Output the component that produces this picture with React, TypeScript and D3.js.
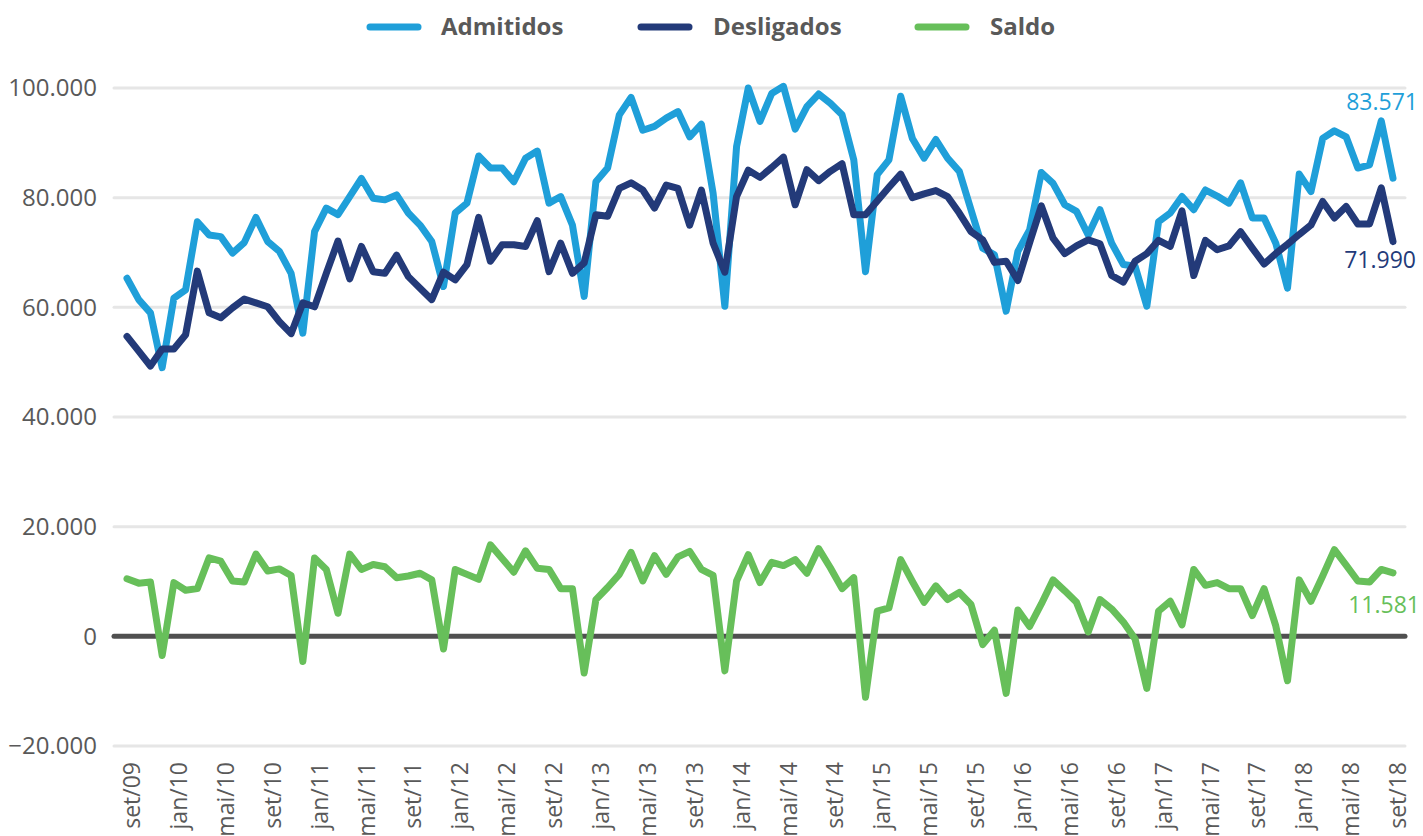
import { useMemo } from "react";
import * as d3 from "d3";

const MONTHS = ["jan", "fev", "mar", "abr", "mai", "jun", "jul", "ago", "set", "out", "nov", "dez"];

// set/09 .. set/18, one entry per month
const categories = d3
    .timeMonth.range(new Date(2009, 8, 1), new Date(2018, 9, 1))
    .map(d => `${MONTHS[d.getMonth()]}/${String(d.getFullYear()).slice(2)}`);

const admitidos = [
    65300, 61400, 59000, 49000, 61700, 63200, 75600, 73200, 72900, 69900, 71800, 76400,
    72000, 70200, 66200, 55300, 73800, 78100, 76900, 80200, 83500, 79900, 79600, 80500,
    77200, 75000, 72000, 63800, 77200, 79000, 87600, 85400, 85400, 82900, 87200, 88500,
    79000, 80200, 75000, 62000, 82900, 85400, 95100, 98300, 92300, 93000, 94500, 95700,
    91100, 93400, 80800, 60200, 89300, 100000, 93900, 99000, 100300, 92500, 96600, 98900,
    97200, 95100, 86900, 66500, 84200, 86900, 98500, 90800, 87200, 90600, 87200, 84800,
    77800, 70800, 69600, 59300, 70200, 74100, 84600, 82600, 78700, 77500, 73200, 77800,
    71700, 67800, 67500, 60200, 75600, 77200, 80200, 77800, 81400, 80300, 79000, 82700,
    76300, 76300, 71700, 63500, 84300, 81100, 90800, 92200, 91100, 85400, 86000, 94000,
    83571
];

const desligados = [
    54700, 52000, 49300, 52400, 52400, 55000, 66600, 59000, 58100, 59900, 61500, 60800,
    60100, 57400, 55200, 60800, 60100, 66200, 72100, 65200, 71100, 66500, 66200, 69500,
    65600, 63500, 61400, 66400, 65000, 67800, 76400, 68400, 71400, 71400, 71100, 75800,
    66500, 71700, 66200, 68100, 76900, 76600, 81700, 82700, 81400, 78100, 82300, 81700,
    75000, 81400, 71700, 66400, 80200, 85000, 83700, 85500, 87400, 78700, 85100, 83100,
    84800, 86200, 76900, 76900, 79400, 81900, 84300, 80000, 80700, 81300, 80200, 77200,
    73800, 72300, 68200, 68400, 64900, 71800, 78500, 72600, 69800, 71200, 72300, 71600,
    65800, 64600, 68400, 69800, 72200, 71100, 77600, 65800, 72200, 70500, 71200, 73800,
    70800, 67900, 69800, 71500, 73300, 75000, 79300, 76300, 78400, 75200, 75200, 81800,
    71990
];

const saldo = [
    10500, 9700, 9900, -3500, 9800, 8400, 8700, 14300, 13700, 10100, 9900, 15000,
    11900, 12300, 11100, -4600, 14300, 12200, 4200, 15000, 12200, 13100, 12700, 10700,
    11000, 11500, 10300, -2300, 12200, 11300, 10400, 16700, 14200, 11700, 15600, 12400,
    12200, 8700, 8700, -6700, 6700, 8900, 11300, 15300, 10100, 14700, 11300, 14500,
    15500, 12200, 11100, -6300, 10100, 14900, 9800, 13500, 12900, 14000, 11500, 16000,
    12500, 8700, 10700, -11100, 4600, 5200, 14000, 10000, 6200, 9200, 6700, 8000,
    5800, -1500, 1100, -10400, 4800, 1800, 5900, 10300, 8300, 6200, 800, 6700,
    5000, 2600, -500, -9500, 4600, 6400, 2100, 12200, 9300, 9800, 8700, 8700,
    3800, 8700, 1900, -8100, 10300, 6400, 11000, 15800, 13000, 10100, 9900, 12200,
    11581
];

const yTicks = [-20000, 0, 20000, 40000, 60000, 80000, 100000];

const seriesNames = ["Admitidos", "Desligados", "Saldo"];
const seriesColors = ["#1f9fd9", "#233a79", "#67bf5a"];

const WIDTH = 1423;
const HEIGHT = 836;
const FONT = "'Open Sans', sans-serif";
const TEXT = "#595959";

const locale = d3.formatLocale({ decimal: ",", thousands: ".", grouping: [3], currency: ["R$", ""] });
const fmt = locale.format(",d");

const App = () => {
    const series = [admitidos, desligados, saldo];

    const x = useMemo(() => d3.scalePoint<string>().domain(categories).range([127, 1393]), []);
    const y = useMemo(() => d3.scaleLinear().domain([-20000, 100000]).range([746, 88]), []);

    const lineGen = d3
        .line<number>()
        .x((_, i) => x(categories[i]) as number)
        .y(d => y(d));

    const tickCats = categories.filter((_, i) => i % 4 === 0);
    const last = categories.length - 1;

    // legend positions
    const legend = [
        { sx: 370, tx: 441 },
        { sx: 641, tx: 713 },
        { sx: 918, tx: 990 }
    ];

    // end-of-line value labels
    const endLabels = [
        { dx: 1418, dy: -68 },
        { dx: 1416, dy: 26 },
        { dx: 1420, dy: 40 }
    ];

    return (
        <svg
            width={WIDTH}
            height={HEIGHT}
            style={{ position: "absolute", left: 0, top: 0, background: "#fff" }}
            fontFamily={FONT}
        >
            {/* legend */}
            {seriesNames.map((name, i) => (
                <g key={name}>
                    <line
                        x1={legend[i].sx}
                        x2={legend[i].sx + 48}
                        y1={27}
                        y2={27}
                        stroke={seriesColors[i]}
                        strokeWidth={7}
                        strokeLinecap="round"
                    />
                    <text x={legend[i].tx} y={27} dy="0.35em" fontSize={24} fontWeight={700} fill={TEXT}>
                        {name}
                    </text>
                </g>
            ))}

            {/* grid + y labels */}
            {yTicks.map(t => (
                <g key={t}>
                    {t !== 0 && (
                        <line x1={114} x2={1405} y1={y(t)} y2={y(t)} stroke="#e6e6e6" strokeWidth={3} strokeLinecap="round" />
                    )}
                    <text x={97} y={y(t)} dy="0.35em" textAnchor="end" fontSize={24} fill={TEXT}>
                        {fmt(t)}
                    </text>
                </g>
            ))}
            <line x1={114} x2={1405} y1={y(0)} y2={y(0)} stroke="#505050" strokeWidth={5} strokeLinecap="round" />

            {/* x labels */}
            {tickCats.map(c => (
                <text
                    key={c}
                    transform={`translate(${(x(c) as number) + 5},${762}) rotate(-90)`}
                    dy="0.35em"
                    textAnchor="end"
                    fontSize={23}
                    fill={TEXT}
                >
                    {c}
                </text>
            ))}

            {/* lines */}
            {series.map((s, i) => (
                <path
                    key={seriesNames[i]}
                    d={lineGen(s) || ""}
                    fill="none"
                    stroke={seriesColors[i]}
                    strokeWidth={7}
                    strokeLinejoin="round"
                    strokeLinecap="round"
                />
            ))}

            {/* end labels */}
            {series.map((s, i) => (
                <text
                    key={`end-${i}`}
                    x={endLabels[i].dx}
                    y={y(s[last]) + endLabels[i].dy}
                    textAnchor="end"
                    fontSize={23}
                    fill={seriesColors[i]}
                >
                    {fmt(s[last])}
                </text>
            ))}
        </svg>
    );
};

export default App;
